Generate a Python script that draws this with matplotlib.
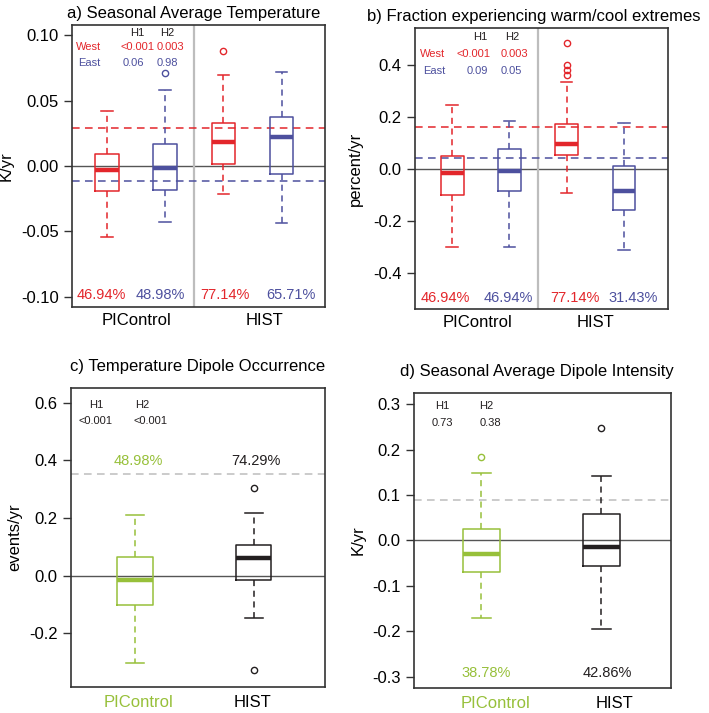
import matplotlib
matplotlib.use("Agg")
import matplotlib.pyplot as plt

plt.rcParams['font.family'] = ['Liberation Sans', 'DejaVu Sans']

RED = '#e3262b'
BLUE = '#4d509e'
GREEN = '#97c03a'
BLACK = '#231f20'
GRAY = '#bdbdbd'

# box statistics, order: PIControl West, PIControl East, HIST West, HIST East
a_whislo = [-0.054, -0.043, -0.0215, -0.044]
a_q1 = [-0.019, -0.0187, 0.0013, -0.0062]
a_med = [-0.003, -0.0018, 0.0185, 0.0226]
a_q3 = [0.009, 0.0167, 0.0328, 0.0377]
a_whishi = [0.0423, 0.058, 0.070, 0.0718]
a_fliers = [[], [0.071], [0.088], []]
a_ref = [0.0292, -0.0115]
a_pct = ['46.94%', '48.98%', '77.14%', '65.71%']
a_h1 = ['<0.001', '0.06']
a_h2 = ['0.003', '0.98']

b_whislo = [-0.301, -0.303, -0.094, -0.314]
b_q1 = [-0.100, -0.085, 0.051, -0.158]
b_med = [-0.019, -0.008, 0.096, -0.087]
b_q3 = [0.049, 0.077, 0.173, 0.009]
b_whishi = [0.244, 0.182, 0.333, 0.177]
b_fliers = [[], [], [0.481, 0.397, 0.378, 0.359], []]
b_ref = [0.160, 0.041]
b_pct = ['46.94%', '46.94%', '77.14%', '31.43%']
b_h1 = ['<0.001', '0.09']
b_h2 = ['0.003', '0.05']

# order: PIControl, HIST
c_whislo = [-0.302, -0.149]
c_q1 = [-0.102, -0.015]
c_med = [-0.017, 0.061]
c_q3 = [0.065, 0.108]
c_whishi = [0.2096, 0.218]
c_fliers = [[], [0.305, -0.329]]
c_ref = 0.353
c_pct = ['48.98%', '74.29%']
c_p = ['<0.001', '<0.001']

d_whislo = [-0.171, -0.194]
d_q1 = [-0.069, -0.057]
d_med = [-0.029, -0.015]
d_q3 = [0.026, 0.058]
d_whishi = [0.149, 0.142]
d_fliers = [[0.185], [0.247]]
d_ref = 0.0886
d_pct = ['38.78%', '42.86%']
d_p = ['0.73', '0.38']

groups = ['PIControl', 'HIST']


def draw_boxes(ax, pos, whislo, q1, med, q3, whishi, fliers, colors, width):
    for i, c in enumerate(colors):
        st = [dict(whislo=whislo[i], q1=q1[i], med=med[i], q3=q3[i],
                   whishi=whishi[i], fliers=fliers[i])]
        ax.bxp(st, positions=[pos[i]], widths=width, capwidths=width * 0.5,
               showfliers=True, manage_ticks=False,
               boxprops=dict(color=c, lw=1.1),
               medianprops=dict(color=c, lw=3.2, solid_capstyle='butt'),
               whiskerprops=dict(color=c, lw=1.1, linestyle=(0, (4, 3))),
               capprops=dict(color=c, lw=1.1),
               flierprops=dict(marker='o', markersize=4.5, markerfacecolor='none',
                               markeredgecolor=c, markeredgewidth=1.0))


def style(ax, xpad):
    for s in ax.spines.values():
        s.set_color('#333333')
        s.set_linewidth(1.2)
    ax.tick_params(axis='y', length=6, width=1, labelsize=12, color='#333333')
    ax.tick_params(axis='x', length=0, labelsize=12, pad=xpad)
    ax.axhline(0, color='#555555', lw=1.0, zorder=0)


fig = plt.figure(figsize=(7.09, 7.13), dpi=100)

# ---- a)
ax = fig.add_axes([0.1016, 0.5694, 0.357, 0.3955])
style(ax, 4)
ax.axvline(2.5, color=GRAY, lw=1.6, zorder=0)
ax.axhline(a_ref[0], color=RED, lw=1.1, linestyle=(0, (5, 3.5)))
ax.axhline(a_ref[1], color=BLUE, lw=1.1, linestyle=(0, (5, 3.5)))
draw_boxes(ax, [1, 2, 3, 4], a_whislo, a_q1, a_med, a_q3, a_whishi, a_fliers,
           [RED, BLUE, RED, BLUE], 0.4)
ax.set_xlim(0.4, 4.75)
ax.set_ylim(-0.108, 0.108)
ax.set_yticks([-0.10, -0.05, 0.0, 0.05, 0.10])
ax.set_yticklabels(['-0.10', '-0.05', '0.00', '0.05', '0.10'])
ax.set_xticks([1.5, 3.7])
ax.set_xticklabels(groups)
ax.set_ylabel('K/yr', fontsize=12)
ax.yaxis.set_label_coords(-0.23, 0.5)
ax.set_title('a) Seasonal Average Temperature', fontsize=12, pad=5, x=0.48)
ax.text(1.52, 0.102, 'H1', fontsize=8, ha='center', va='center', color=BLACK)
ax.text(2.03, 0.102, 'H2', fontsize=8, ha='center', va='center', color=BLACK)
ax.text(0.69, 0.091, 'West', fontsize=8, ha='center', va='center', color=RED)
ax.text(1.52, 0.091, a_h1[0], fontsize=8, ha='center', va='center', color=RED)
ax.text(2.09, 0.091, a_h2[0], fontsize=8, ha='center', va='center', color=RED)
ax.text(0.69, 0.079, 'East', fontsize=8, ha='center', va='center', color=BLUE)
ax.text(1.45, 0.079, a_h1[1], fontsize=8, ha='center', va='center', color=BLUE)
ax.text(2.03, 0.079, a_h2[1], fontsize=8, ha='center', va='center', color=BLUE)
for x, t, c in zip([0.91, 1.91, 3.03, 4.16], a_pct, [RED, BLUE, RED, BLUE]):
    ax.text(x, -0.0985, t, fontsize=10.5, ha='center', va='center', color=c)

# ---- b)
ax = fig.add_axes([0.5853, 0.5666, 0.357, 0.394])
style(ax, 4)
ax.axvline(2.5, color=GRAY, lw=1.6, zorder=0)
ax.axhline(b_ref[0], color=RED, lw=1.1, linestyle=(0, (5, 3.5)))
ax.axhline(b_ref[1], color=BLUE, lw=1.1, linestyle=(0, (5, 3.5)))
draw_boxes(ax, [1, 2, 3, 4], b_whislo, b_q1, b_med, b_q3, b_whishi, b_fliers,
           [RED, BLUE, RED, BLUE], 0.4)
ax.set_xlim(0.35, 4.77)
ax.set_ylim(-0.54, 0.54)
ax.set_yticks([-0.4, -0.2, 0.0, 0.2, 0.4])
ax.set_yticklabels(['-0.4', '-0.2', '0.0', '0.2', '0.4'])
ax.set_xticks([1.45, 3.5])
ax.set_xticklabels(groups)
ax.set_ylabel('percent/yr', fontsize=12)
ax.yaxis.set_label_coords(-0.205, 0.5)
ax.set_title('b) Fraction experiencing warm/cool extremes', fontsize=12, pad=5, x=0.47)
ax.text(1.49, 0.506, 'H1', fontsize=8, ha='center', va='center', color=BLACK)
ax.text(2.04, 0.506, 'H2', fontsize=8, ha='center', va='center', color=BLACK)
ax.text(0.65, 0.442, 'West', fontsize=8, ha='center', va='center', color=RED)
ax.text(1.37, 0.442, b_h1[0], fontsize=8, ha='center', va='center', color=RED)
ax.text(2.09, 0.442, b_h2[0], fontsize=8, ha='center', va='center', color=RED)
ax.text(0.68, 0.374, 'East', fontsize=8, ha='center', va='center', color=BLUE)
ax.text(1.44, 0.374, b_h1[1], fontsize=8, ha='center', va='center', color=BLUE)
ax.text(2.04, 0.374, b_h2[1], fontsize=8, ha='center', va='center', color=BLUE)
for x, t, c in zip([0.88, 1.98, 3.14, 4.16], b_pct, [RED, BLUE, RED, BLUE]):
    ax.text(x, -0.497, t, fontsize=10.5, ha='center', va='center', color=c)

# ---- c)
ax = fig.add_axes([0.1001, 0.0365, 0.358, 0.4194])
style(ax, 6)
ax.axhline(c_ref, color=GRAY, lw=1.1, linestyle=(0, (5, 3.5)))
draw_boxes(ax, [1, 2], c_whislo, c_q1, c_med, c_q3, c_whishi, c_fliers,
           [GREEN, BLACK], 0.3)
ax.set_xlim(0.46, 2.6)
ax.set_ylim(-0.387, 0.652)
ax.set_yticks([-0.2, 0.0, 0.2, 0.4, 0.6])
ax.set_yticklabels(['-0.2', '0.0', '0.2', '0.4', '0.6'])
ax.set_xticks([1.03, 1.99])
ax.set_xticklabels(groups)
ax.get_xticklabels()[0].set_color(GREEN)
ax.set_ylabel('events/yr', fontsize=12)
ax.yaxis.set_label_coords(-0.19, 0.5)
ax.set_title('c) Temperature Dipole Occurrence', fontsize=12, pad=12)
ax.text(0.67, 0.594, 'H1', fontsize=8, ha='center', va='center', color=BLACK)
ax.text(1.06, 0.594, 'H2', fontsize=8, ha='center', va='center', color=BLACK)
ax.text(0.67, 0.536, c_p[0], fontsize=8, ha='center', va='center', color=BLACK)
ax.text(1.13, 0.536, c_p[1], fontsize=8, ha='center', va='center', color=BLACK)
ax.text(1.03, 0.397, c_pct[0], fontsize=10.5, ha='center', va='center', color=GREEN)
ax.text(2.02, 0.397, c_pct[1], fontsize=10.5, ha='center', va='center', color=BLACK)

# ---- d)
ax = fig.add_axes([0.5839, 0.0351, 0.3625, 0.4137])
style(ax, 6)
ax.axhline(d_ref, color=GRAY, lw=1.1, linestyle=(0, (5, 3.5)))
draw_boxes(ax, [1, 2], d_whislo, d_q1, d_med, d_q3, d_whishi, d_fliers,
           [GREEN, BLACK], 0.31)
ax.set_xlim(0.44, 2.58)
ax.set_ylim(-0.325, 0.325)
ax.set_yticks([-0.3, -0.2, -0.1, 0.0, 0.1, 0.2, 0.3])
ax.set_yticklabels(['-0.3', '-0.2', '-0.1', '0.0', '0.1', '0.2', '0.3'])
ax.set_xticks([1.12, 2.11])
ax.set_xticklabels(groups)
ax.get_xticklabels()[0].set_color(GREEN)
ax.set_ylabel('K/yr', fontsize=12)
ax.yaxis.set_label_coords(-0.19, 0.5)
ax.set_title('d) Seasonal Average Dipole Intensity', fontsize=12, pad=12, x=0.48)
ax.text(0.675, 0.296, 'H1', fontsize=8, ha='center', va='center', color=BLACK)
ax.text(1.04, 0.296, 'H2', fontsize=8, ha='center', va='center', color=BLACK)
ax.text(0.675, 0.258, d_p[0], fontsize=8, ha='center', va='center', color=BLACK)
ax.text(1.08, 0.258, d_p[1], fontsize=8, ha='center', va='center', color=BLACK)
ax.text(1.04, -0.2916, d_pct[0], fontsize=10.5, ha='center', va='center', color=GREEN)
ax.text(2.05, -0.2916, d_pct[1], fontsize=10.5, ha='center', va='center', color=BLACK)

fig.savefig('out.png', dpi=100)
